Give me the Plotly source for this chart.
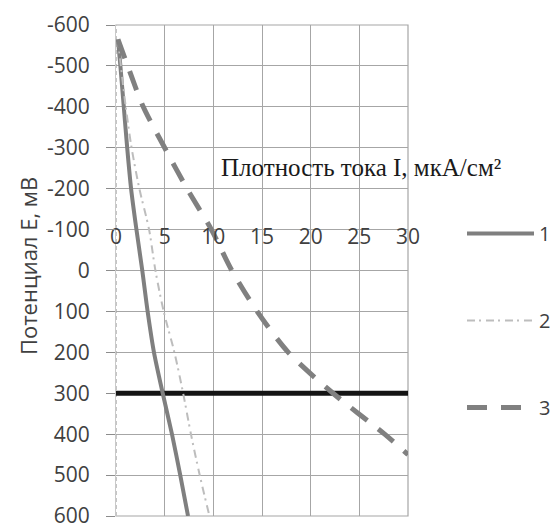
import plotly.graph_objects as go

# ---- data ----
E_12 = [-565, -500, -400, -300, -200, -100, 0, 100, 200, 300, 400, 500, 600]
I_1 = [0.2, 0.45, 0.8, 1.15, 1.55, 2.1, 2.7, 3.25, 3.9, 4.8, 5.75, 6.6, 7.4]
I_2 = [0.2, 0.5, 1.0, 1.6, 2.4, 3.4, 4.05, 4.9, 6.0, 6.9, 7.7, 8.6, 9.6]
E_3 = [-565, -500, -400, -300, -200, -100, 0, 100, 200, 300, 400, 450]
I_3 = [0.2, 1.2, 2.8, 5.0, 7.3, 9.8, 11.9, 14.5, 17.7, 22.3, 27.6, 30.0]
E_limit = [300, 300]
I_limit = [0, 30]

series_names = ["1", "2", "3"]
y_tickvals = [-600, -500, -400, -300, -200, -100, 0, 100, 200, 300, 400, 500, 600]
y_ticktext = ["-600", "-500", "-400", "-300", "-200", "-100", "0",
              "100", "200", "300", "400", "500", "600"]
x_tickvals = [0, 5, 10, 15, 20, 25, 30]
x_ticktext = ["0", "5", "10", "15", "20", "25", "30"]
x_title = "Плотность тока I, мкА/см²"
y_title = "Потенциал Е, мВ"

W, H = 554, 524
ML, MR, MT, MB = 116, 146, 25, 8
PW, PH = W - ML - MR, H - MT - MB
x_range = [0, 30]
y_range = [600, -600]
x_axis_at = -100
GRID = "#a6a6a6"

fig = go.Figure()

fig.add_trace(go.Scatter(
    x=I_limit, y=E_limit, mode="lines", showlegend=False,
    line=dict(color="#141414", width=5), hoverinfo="skip"))

fig.add_trace(go.Scatter(
    x=I_1, y=E_12, mode="lines", name=series_names[0], legendgroup="g1",
    line=dict(color="#7f7f7f", width=4, shape="spline", smoothing=0.8)))
fig.add_trace(go.Scatter(
    x=I_2, y=E_12, mode="lines", name=series_names[1], legendgroup="g2",
    line=dict(color="#bdbdbd", width=2, dash="8px,4px,2px,5px",
              shape="spline", smoothing=0.8)))
fig.add_trace(go.Scatter(
    x=I_3, y=E_3, mode="lines", name=series_names[2], legendgroup="g3",
    line=dict(color="#808080", width=5, dash="20px,14px",
              shape="spline", smoothing=0.8)))

# plot frame, then dashed vertical axis line at x = 0
fig.add_shape(type="rect", xref="paper", yref="paper", x0=0, x1=1, y0=0, y1=1,
              layer="between", line=dict(color=GRID, width=1.2))
fig.add_shape(type="line", xref="x", yref="paper", x0=x_range[0], x1=x_range[0],
              y0=0, y1=1, layer="between", line=dict(color="white", width=2))
fig.add_shape(type="line", xref="x", yref="paper", x0=x_range[0], x1=x_range[0],
              y0=0, y1=1, layer="between",
              line=dict(color="#8c8c8c", width=1, dash="4px,3px"))

x_pos = (y_range[0] - x_axis_at) / (y_range[0] - y_range[1]) + 8 / PH

fig.update_layout(
    width=W, height=H,
    margin=dict(l=ML, r=MR, t=MT, b=MB, autoexpand=False),
    paper_bgcolor="white", plot_bgcolor="white",
    font=dict(family="Open Sans", color="#404040", size=20),
    xaxis=dict(
        range=x_range, tickvals=x_tickvals, ticktext=x_ticktext,
        showgrid=True, gridcolor=GRID, gridwidth=1.2,
        zeroline=False, showline=False, ticks="",
        anchor="free", position=x_pos, side="bottom",
        tickfont=dict(family="Open Sans", size=21, color="#404040"),
        ticklabelstandoff=0, automargin=False, ticklabeloverflow="allow",
    ),
    yaxis=dict(
        range=y_range, tickvals=y_tickvals, ticktext=y_ticktext,
        showgrid=True, gridcolor=GRID, gridwidth=1.2,
        zeroline=False, showline=False, automargin=False,
        ticks="outside", ticklen=9, tickcolor="#8c8c8c", tickwidth=1,
        ticklabelstandoff=12, ticklabeloverflow="allow",
        tickfont=dict(family="Open Sans", size=21, color="#404040"),
    ),
    legend=dict(
        x=(462 - ML) / PW, xanchor="left",
        y=(H - MB - 214) / PH, yanchor="top",
        font=dict(family="Open Sans", size=20, color="#404040"),
        tracegroupgap=58, itemwidth=67, bgcolor="rgba(0,0,0,0)",
    ),
    annotations=[
        dict(text=x_title, xref="paper", yref="paper",
             x=(219 - ML) / PW, xanchor="left",
             y=(H - MB - 168) / PH, yanchor="middle",
             showarrow=False,
             font=dict(family="Liberation Serif", size=25, color="#1a1a1a")),
        dict(text=y_title, xref="paper", yref="paper", textangle=-90,
             x=(28 - ML) / PW, xanchor="center",
             y=(H - MB - 266) / PH, yanchor="middle",
             showarrow=False,
             font=dict(family="Open Sans", size=22, color="#404040")),
    ],
)

fig.write_html("out.html",
               config={"displayModeBar": False},
               post_script="document.body.style.margin='0';"
                           "document.body.style.overflow='hidden';")
